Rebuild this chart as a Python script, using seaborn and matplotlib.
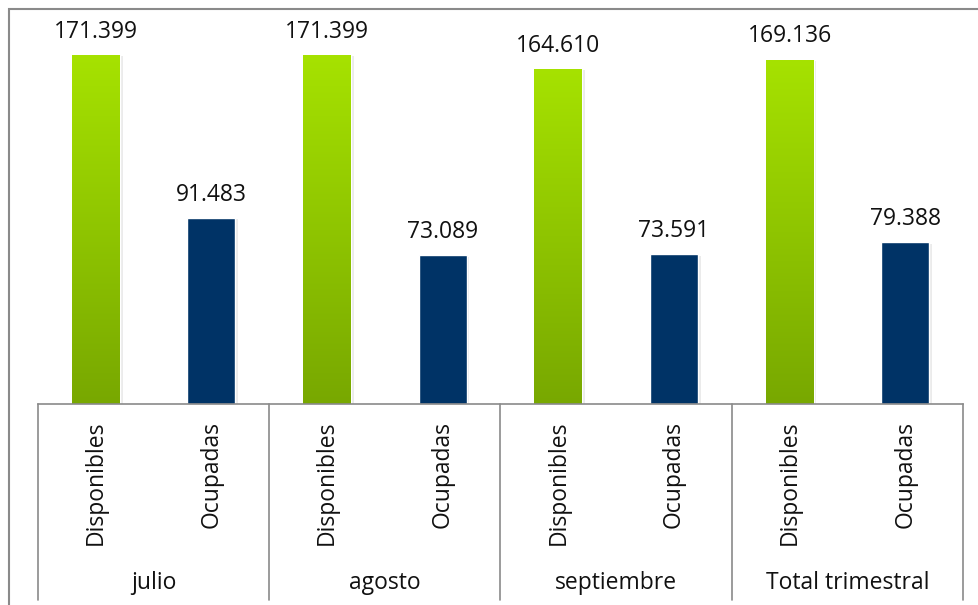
import pandas as pd
import matplotlib.pyplot as plt
import seaborn as sns
import numpy as np
from matplotlib.patches import Rectangle
from matplotlib import patheffects as pe
import matplotlib.transforms as mtransforms

# -----------------------------------------------------------------------------
# 1. DADES
# -----------------------------------------------------------------------------
meses = ['julio', 'agosto', 'septiembre', 'Total trimestral']
tipos = ['Disponibles', 'Ocupadas']
disponibles = [171.399, 171.399, 164.610, 169.136]
ocupadas = [91.483, 73.089, 73.591, 79.388]

rows = []
for m, d, o in zip(meses, disponibles, ocupadas):
    rows.append({'mes': m, 'tipo': 'Disponibles', 'valor': d})
    rows.append({'mes': m, 'tipo': 'Ocupadas', 'valor': o})
df = pd.DataFrame(rows)
df['clave'] = df['mes'] + '|' + df['tipo']

# -----------------------------------------------------------------------------
# 2. ESTIL
# -----------------------------------------------------------------------------
sns.set_theme(style="white")
plt.rcParams['font.family'] = ['Open Sans', 'DejaVu Sans']
FS = 16.5
GRIS = '#8a8a8a'
VERD_TOP = '#a6e200'
VERD_BOT = '#78a800'
BLAU = '#003366'

fig = plt.figure(figsize=(9.79, 6.05), dpi=100)
ax = fig.add_axes([38 / 979, 1 - 404 / 605, (963 - 38) / 979, (404 - 10) / 605])

sns.barplot(data=df, x='clave', y='valor', hue='tipo', dodge=False,
            palette={'Disponibles': VERD_BOT, 'Ocupadas': BLAU},
            width=0.415, ax=ax, legend=False, saturation=1)

# gradient per a les barres verdes + ombra suau
grad = np.linspace(0, 1, 256).reshape(-1, 1)
cmap = sns.blend_palette([VERD_BOT, VERD_TOP], as_cmap=True)
for patch in list(ax.patches):
    patch.set_path_effects([pe.SimplePatchShadow(offset=(2, -1), alpha=0.08, shadow_rgbFace='#000000'),
                            pe.Normal()])
    x0, w, h = patch.get_x(), patch.get_width(), patch.get_height()
    idx = int(round(x0 + w / 2))
    if df['tipo'].iloc[idx] == 'Disponibles':
        im = ax.imshow(grad, extent=[x0, x0 + w, 0, h], origin='lower', cmap=cmap,
                       aspect='auto', zorder=patch.get_zorder() + 0.1)
        im.set_clip_path(patch)

ax.set_xlim(-0.5, len(df) - 0.5)
ax.set_ylim(0, 193.5)

# etiquetes de valor
for i, v in enumerate(df['valor']):
    ax.annotate(f'{v:.3f}', (i, v), xytext=(0, 8), textcoords='offset points',
                ha='center', va='bottom', fontsize=FS, color='#111111')

# -----------------------------------------------------------------------------
# 3. EIX X MULTINIVELL
# -----------------------------------------------------------------------------
ax.set_xlabel('')
ax.set_ylabel('')
ax.set_yticks([])
ax.set_xticks(range(len(df)))
ax.set_xticklabels(df['tipo'], rotation=90, va='top', ha='center', fontsize=FS, color='#111111')
ax.tick_params(axis='x', length=0, pad=12)

for s in ['top', 'left', 'right']:
    ax.spines[s].set_visible(False)
ax.spines['bottom'].set_color(GRIS)
ax.spines['bottom'].set_linewidth(1.2)

trans = mtransforms.blended_transform_factory(ax.transData, ax.transAxes)
y_fons = -(600 - 404) / 394
for k in range(len(meses) + 1):
    xs = 2 * k - 0.5
    ax.plot([xs, xs], [0, y_fons], transform=trans, color=GRIS, lw=1.2, clip_on=False)

y_mes = -(583 - 404) / 394
for k, m in enumerate(meses):
    ax.text(2 * k + 0.5, y_mes, m, transform=trans, ha='center', va='center',
            fontsize=FS, color='#111111')

# marc exterior
fig.patches.append(Rectangle((9 / 979, -0.2), 1.2, 1 - 9 / 605 + 0.2,
                             transform=fig.transFigure, fill=False,
                             edgecolor=GRIS, linewidth=1.5, clip_on=False))

fig.savefig('out.png', dpi=100)
